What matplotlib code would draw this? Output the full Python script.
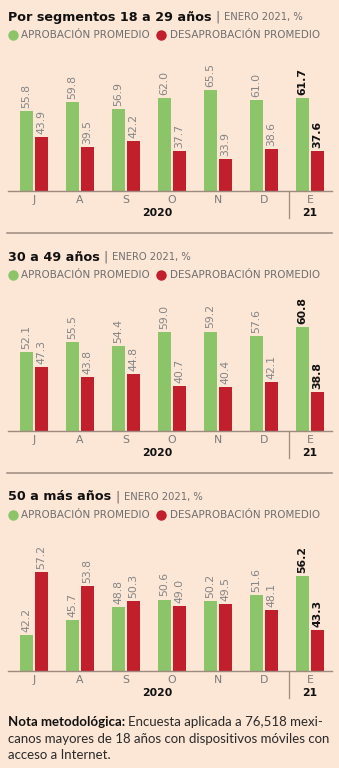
import matplotlib
matplotlib.use("Agg")
import matplotlib.pyplot as plt
from matplotlib.lines import Line2D

# Data
months = ["J", "A", "S", "O", "N", "D", "E"]
aprob_18_29 = [55.8, 59.8, 56.9, 62.0, 65.5, 61.0, 61.7]
desap_18_29 = [43.9, 39.5, 42.2, 37.7, 33.9, 38.6, 37.6]
aprob_30_49 = [52.1, 55.5, 54.4, 59.0, 59.2, 57.6, 60.8]
desap_30_49 = [47.3, 43.8, 44.8, 40.7, 40.4, 42.1, 38.8]
aprob_50 = [42.2, 45.7, 48.8, 50.6, 50.2, 51.6, 56.2]
desap_50 = [57.2, 53.8, 50.3, 49.0, 49.5, 48.1, 43.3]
titles = ["Por segmentos 18 a 29 años", "30 a 49 años", "50 a más años"]

BG = "#fce6d6"
GREEN = "#8cc46a"
RED = "#c21f2c"
LINE = "#9c8b7e"
GREY = "#6f6f6f"
FONT = "DejaVu Sans"
NOTE_FONT = "Lato"

W, H = 339, 768
fig = plt.figure(figsize=(W / 100, H / 100), dpi=100, facecolor=BG)
renderer = fig.canvas.get_renderer()


def fx(x):
    return x / W


def fy(y):
    return 1 - y / H


def text_after(x, y, parts, family=FONT):
    # draw a sequence of (text, kwargs) on one line, left to right
    for s, kw in parts:
        t = fig.text(fx(x), fy(y), s, va="center", ha="left", family=family, **kw)
        x += t.get_window_extent(renderer).width
    return x


panels = [
    (aprob_18_29, desap_18_29, 0, (19.5, 70.0)),
    (aprob_30_49, desap_30_49, 240, (25.5, 63.1)),
    (aprob_50, desap_50, 480, (33.6, 60.0)),
]

for k, (ap, de, off, ylim) in enumerate(panels):
    # title
    text_after(8, 17 + off, [(titles[k] + " ", dict(fontsize=9.2, fontweight="bold", color="#111111")),
                             ("| ", dict(fontsize=9.2, color="#666666")),
                             ("ENERO 2021, %", dict(fontsize=7.2, color=GREY))])
    # legend
    ly = 35 + off
    fig.add_artist(Line2D([fx(12.5)], [fy(ly)], marker="o", ms=7.5, color=GREEN, mec="none",
                          transform=fig.transFigure))
    fig.text(fx(21), fy(ly), "APROBACIÓN PROMEDIO", va="center", family=FONT, fontsize=7.5,
             color=GREY)
    fig.add_artist(Line2D([fx(161)], [fy(ly)], marker="o", ms=7.5, color=RED, mec="none",
                          transform=fig.transFigure))
    fig.text(fx(170), fy(ly), "DESAPROBACIÓN PROMEDIO", va="center", family=FONT, fontsize=7.5,
             color=GREY)

    base = 191 + off
    ax = fig.add_axes([fx(8), fy(base), fx(332) - fx(8), (base - (80 + off)) / H])
    ax.set_facecolor("none")
    idx = list(range(len(months)))
    w = 0.283
    ax.bar([i - 0.163 for i in idx], ap, width=w, color=GREEN, bottom=0)
    ax.bar([i + 0.163 for i in idx], de, width=w, color=RED, bottom=0)
    ax.set_xlim(-0.565, 6.48)
    ax.set_ylim(*ylim)
    for i in idx:
        last = i == len(months) - 1
        kw = dict(fontweight="bold", color="#111111") if last else dict(color="#858585")
        for xo, v in ((-0.163, ap[i]), (0.163, de[i])):
            ax.annotate(f"{v:.1f}", (i + xo, v), xytext=(0, 2.2), textcoords="offset points",
                        rotation=90, ha="center", va="bottom", fontsize=7.8, family=FONT, **kw)
    for s in ("top", "right", "left"):
        ax.spines[s].set_visible(False)
    ax.spines["bottom"].set_color(LINE)
    ax.spines["bottom"].set_linewidth(1)
    ax.set_yticks([])
    ax.set_xticks(idx)
    ax.set_xticklabels(months, family=FONT, fontsize=7.8, color="#7a7a7a")
    ax.tick_params(axis="x", length=0, pad=3)

    # year labels and separator
    fig.text(fx(157), fy(213 + off), "2020", ha="center", va="center", family=FONT,
             fontsize=7.8, fontweight="bold", color="#111111")
    fig.text(fx(310), fy(213 + off), "21", ha="center", va="center", family=FONT,
             fontsize=7.8, fontweight="bold", color="#111111")
    fig.add_artist(Line2D([fx(289), fx(289)], [fy(base), fy(base + 27)], color=LINE, lw=0.9,
                          transform=fig.transFigure))
    if k < 2:
        sy = 233 + off
        fig.add_artist(Line2D([fx(7), fx(332)], [fy(sy), fy(sy)], color=LINE, lw=1.1,
                              transform=fig.transFigure))

# note
note_kw = dict(fontsize=9.5, color="#2a2a2a")
text_after(8, 722, [("Nota metodológica: ", dict(fontsize=9.5, fontweight="bold", color="#111111")),
                    ("Encuesta aplicada a 76,518 mexi-", note_kw)], family=NOTE_FONT)
fig.text(fx(8), fy(739), "canos mayores de 18 años con dispositivos móviles con", va="center",
         family=NOTE_FONT, **note_kw)
fig.text(fx(8), fy(755), "acceso a Internet.", va="center", family=NOTE_FONT, **note_kw)

fig.savefig("out.png", dpi=100, facecolor=BG)
